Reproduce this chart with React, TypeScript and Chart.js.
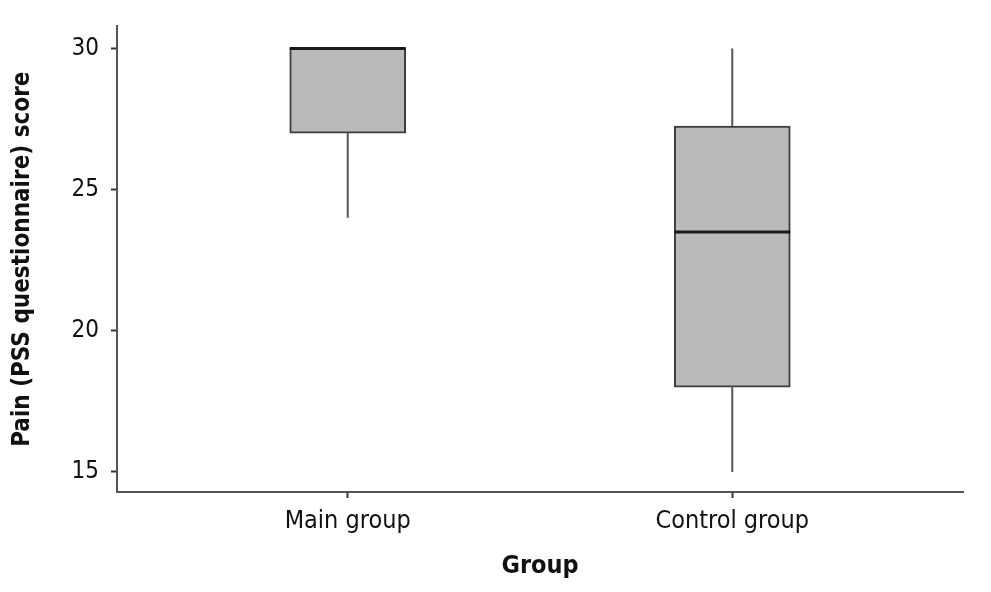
import React, { useEffect, useRef } from "react";
import { Chart, registerables } from "chart.js";

Chart.register(...registerables);

const categories = ["Main group", "Control group"];
const positions = [1, 2];
const whiskerLow = [24, 15];
const q1 = [27, 18];
const median = [30, 23.5];
const q3 = [30, 27.25];
const whiskerHigh = [30, 30];
const yTicks = [15, 20, 25, 30];

const FONT = "'DejaVu Sans Condensed', 'Liberation Sans Narrow', 'Roboto', sans-serif";

const boxPlugin = {
  id: "boxExtras",
  afterDatasetsDraw(chart: any) {
    const { ctx, scales } = chart;
    const xs = scales.x;
    const ys = scales.y;
    const meta = chart.getDatasetMeta(0);
    ctx.save();
    positions.forEach((p, i) => {
      const cx = xs.getPixelForValue(p);
      const bar = meta.data[i];
      const half = bar ? bar.width / 2 : 58;
      ctx.strokeStyle = "#555555";
      ctx.lineWidth = 2;
      ctx.beginPath();
      ctx.moveTo(cx, ys.getPixelForValue(q1[i]));
      ctx.lineTo(cx, ys.getPixelForValue(whiskerLow[i]));
      if (whiskerHigh[i] > q3[i]) {
        ctx.moveTo(cx, ys.getPixelForValue(q3[i]));
        ctx.lineTo(cx, ys.getPixelForValue(whiskerHigh[i]));
      }
      ctx.stroke();
      ctx.strokeStyle = "#1a1a1a";
      ctx.lineWidth = 3;
      ctx.beginPath();
      const my = ys.getPixelForValue(median[i]);
      ctx.moveTo(cx - half, my);
      ctx.lineTo(cx + half, my);
      ctx.stroke();
    });
    ctx.restore();
  },
};

export default function App() {
  const ref = useRef<HTMLCanvasElement | null>(null);
  useEffect(() => {
    document.body.style.margin = "0";
    if (!ref.current) return;
    const chart = new Chart(ref.current, {
      type: "bar",
      data: {
        datasets: [
          {
            data: positions.map((p, i) => ({ x: p, y: [q1[i], q3[i]] })) as any,
            backgroundColor: "#bababa",
            borderColor: "#3c3c3c",
            borderWidth: 2,
            borderSkipped: false,
            barThickness: 116,
          },
        ],
      },
      options: {
        animation: false,
        responsive: false,
        maintainAspectRatio: false,
        layout: { padding: { top: 25, right: 28, left: 4, bottom: 0 } },
        plugins: { legend: { display: false }, tooltip: { enabled: false } },
        scales: {
          x: {
            type: "linear",
            min: 0.4,
            max: 2.6,
            offset: false,
            afterBuildTicks: (s: any) => {
              s.ticks = positions.map((v) => ({ value: v }));
            },
            afterFit: (s: any) => {
              s.height = 100;
            },
            ticks: {
              callback: (v: any) => {
                const idx = positions.indexOf(Number(v));
                return idx >= 0 ? categories[idx] : "";
              },
              color: "#111",
              font: { family: FONT, size: 25 },
              padding: 8,
              maxRotation: 0,
              autoSkip: false,
            },
            grid: {
              offset: false,
              drawOnChartArea: false,
              tickLength: 6,
              tickColor: "#333",
              tickWidth: 2,
            },
            border: { color: "#555", width: 2 },
            title: {
              display: true,
              text: "Group",
              color: "#111",
              font: { family: FONT, size: 25, weight: "bold" },
              padding: { top: 2, bottom: 11 },
            },
          },
          y: {
            min: 14.29,
            max: 30.78,
            afterBuildTicks: (s: any) => {
              s.ticks = yTicks.map((v) => ({ value: v }));
            },
            afterFit: (s: any) => {
              s.width = 113;
            },
            ticks: {
              color: "#111",
              font: { family: FONT, size: 24 },
              padding: 12,
            },
            grid: {
              drawOnChartArea: false,
              tickLength: 6,
              tickColor: "#333",
              tickWidth: 2,
            },
            border: { color: "#555", width: 2 },
            title: {
              display: true,
              text: "Pain (PSS questionnaire) score",
              color: "#111",
              font: { family: FONT, size: 24, weight: "bold" },
              padding: { bottom: 4 },
            },
          },
        },
      },
      plugins: [boxPlugin],
    } as any);
    return () => chart.destroy();
  }, []);
  return (
    <div style={{ width: 991, height: 592 }}>
      <canvas ref={ref} width={991} height={592} style={{ display: "block" }} />
    </div>
  );
}
